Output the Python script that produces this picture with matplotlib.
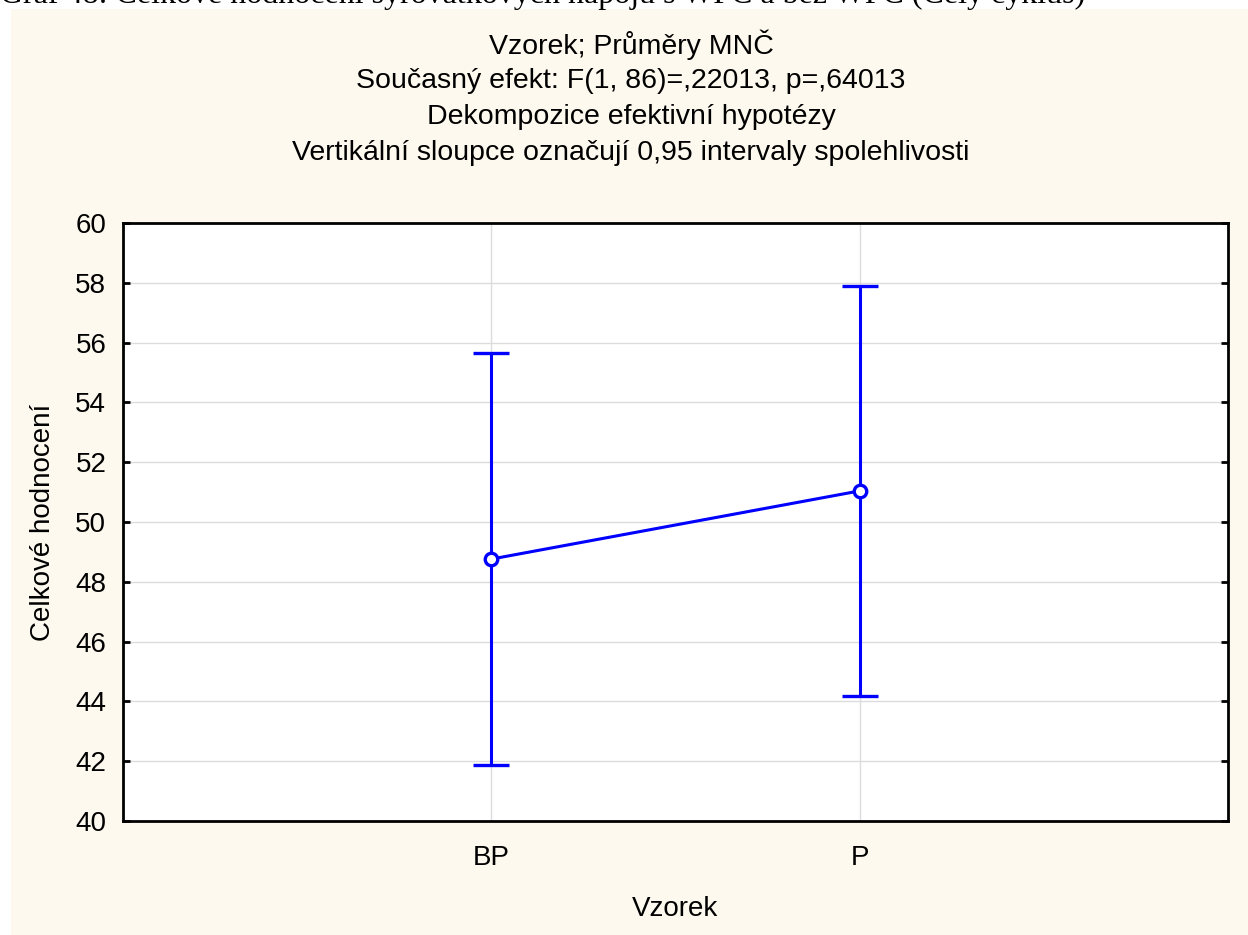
import matplotlib
matplotlib.use("Agg")
import matplotlib.pyplot as plt
from matplotlib.patches import Rectangle

plt.rcParams['font.family'] = ['Liberation Sans', 'DejaVu Sans']

# Data: least-squares means with 0.95 confidence limits
groups = ["BP", "P"]
means = [48.76, 51.04]
ci_low = [41.88, 44.18]
ci_high = [55.64, 57.90]

caption = "Graf 48: Celkové hodnocení syrovátkových nápojů s WPC a bez WPC (Celý cyklus)"
titles = [
    "Vzorek; Průměry MNČ",
    "Současný efekt: F(1, 86)=,22013, p=,64013",
    "Dekompozice efektivní hypotézy",
    "Vertikální sloupce označují 0,95 intervaly spolehlivosti",
]

W, H = 1248, 935
fig = plt.figure(figsize=(W / 100, H / 100), dpi=100)
fig.patch.set_facecolor("white")

# cream panel behind the chart
fig.patches.append(Rectangle((11 / W, 0), 1 - 11 / W, 1 - 9 / H,
                             transform=fig.transFigure, facecolor="#FEF9EE",
                             edgecolor="none", zorder=-1))

# document caption partly cut off at the top edge
fig.text(0, 1 - 3 / H, caption, family="Liberation Serif", fontsize=23,
         va="baseline", ha="left", color="black")

ax = fig.add_axes([123 / W, 1 - 821 / H, (1228 - 123) / W, (821 - 223) / H])
ax.set_facecolor("white")

x = list(range(len(groups)))
yerr = [[m - lo for m, lo in zip(means, ci_low)],
        [hi - m for m, hi in zip(means, ci_high)]]
ax.errorbar(x, means, yerr=yerr, color="#0000FF", lw=2.2, elinewidth=2.2,
            capsize=13, capthick=2.2, marker="o", markersize=9,
            markerfacecolor="white", markeredgecolor="#0000FF",
            markeredgewidth=2.4, zorder=3)

ax.set_xlim(-1, 2)
ax.set_ylim(40, 60)
ax.set_yticks(range(40, 61, 2))
ax.set_xticks(x)
ax.set_xticklabels(groups)
ax.grid(True, color="#DCDCDC", lw=1)
ax.set_axisbelow(True)

for s in ax.spines.values():
    s.set_linewidth(2)
    s.set_color("black")

ax.tick_params(axis="y", which="both", direction="in", length=5, width=2,
               left=True, right=True, labelsize=20, pad=12)
ax.tick_params(axis="x", length=0, labelsize=20, pad=17)

ax.set_xlabel("Vzorek", fontsize=20, labelpad=18)
ax.set_ylabel("Celkové hodnocení", fontsize=20, labelpad=14)

for i, t in enumerate(titles):
    fig.text(0.5 + 7 / W, 1 - (45 + 36 * i) / H, t, ha="center", va="center",
             fontsize=20.5)

fig.savefig("out.png", dpi=100, facecolor=fig.get_facecolor())
